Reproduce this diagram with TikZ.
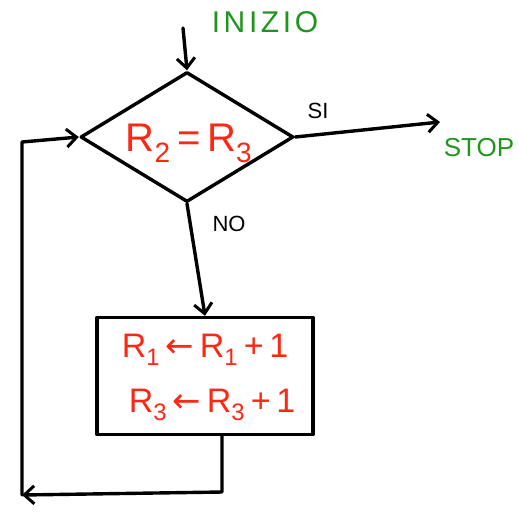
\documentclass[tikz,border=0pt]{standalone}
\usepackage{fontspec}
\setsansfont{Liberation Sans}
\newfontfamily\arrowfont{DejaVu Sans}
\usepackage{tikz}
\usetikzlibrary{
  calc,%
  % diamond shape
  shapes.geometric,%
  arrows.meta,
  positioning
}
\definecolor{penred}{RGB}{250,40,20}
\definecolor{pengreen}{RGB}{30,150,30}
\tikzset{>={Straight Barb[length=10pt,width=18pt,line width=3pt]}}
\tikzset{font=\sffamily}
\tikzset{pen/.style={line width=3.4pt, line cap=round, line join=round},
  redtext/.style={text=penred, font=\fontsize{40}{44}\selectfont\sffamily},
  boxtext/.style={text=penred, font=\fontsize{34}{38}\selectfont\sffamily},
  greentext/.style={text=pengreen, font=\fontsize{30}{34}\selectfont\sffamily},
  blacklabel/.style={font=\fontsize{22}{26}\selectfont\sffamily}}
\newcommand{\getsarrow}{\,{\arrowfont ←}\,}

\begin{document}
\begin{tikzpicture}[x=1pt, y=-1pt]
          \useasboundingbox (0,0) rectangle (518,512); %
          \node[pen, draw, diamond, minimum width=213pt, minimum height=130pt, inner sep=0pt] (test) at (187,137) {}; %
          \node[redtext] (cond) at (189,143) {R\textsubscript{2}\,=\,R\textsubscript{3}}; %
          \node[pen, draw, rectangle, minimum width=216pt, minimum height=117pt, inner sep=0pt] (calc) at (205,376) {}; %
          \node[boxtext] (incr1) at (205,350) {R\textsubscript{1}\getsarrow R\textsubscript{1}\,+\,1}; %
          \node[boxtext] (incr3) at (212,405) {R\textsubscript{3}\getsarrow R\textsubscript{3}\,+\,1}; %
          \node[greentext] (start) at (265,22) {\addfontfeatures{LetterSpace=12}INIZIO}; %
          \node[greentext, font=\fontsize{26}{30}\selectfont\sffamily] (stop) at (479,148) {STOP}; %
          \node[blacklabel] (yes) at (318,111) {SI}; %
          \node[blacklabel] (no) at (229,224) {NO}; %
          \coordinate (in) at (183,28); %
          \coordinate (out) at (440,122); %
          \coordinate (back) at (222,492); %
          \coordinate (corner) at (22,495); %
          \coordinate (up) at (22,142); %
          \draw[pen, ->] (in) -- (test.north); %
          \draw[pen, ->] (test.east) -- (out); %
          \draw[pen, ->] (test.south) -- (calc.north); %
          \draw[pen, ->] (calc.south -| back) -- (back) -- (corner); %
          \draw[pen, ->] (corner) -- (up) -- (test.west); %
        \end{tikzpicture}
\end{document}
